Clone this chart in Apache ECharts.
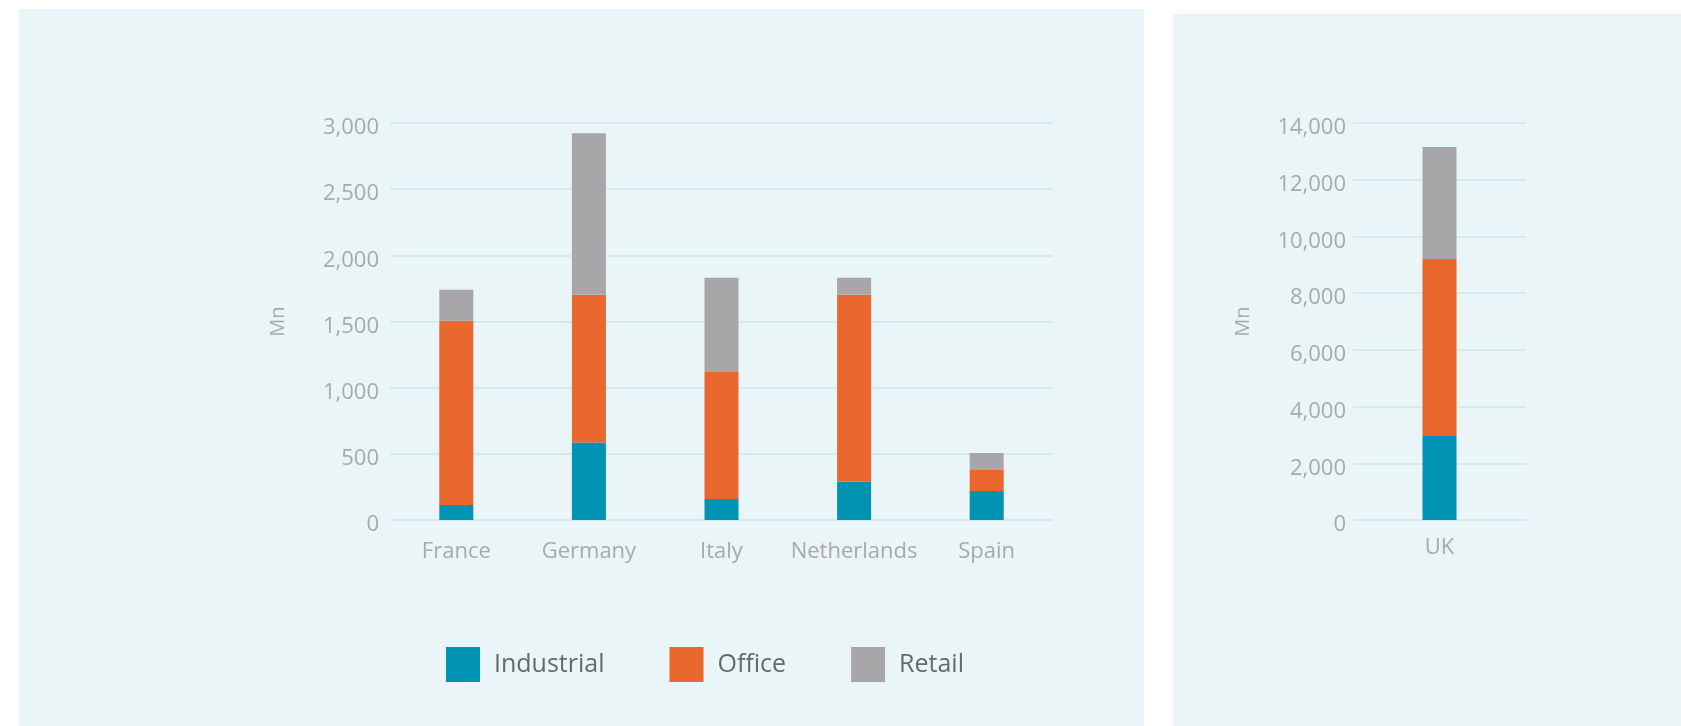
<!DOCTYPE html>
<html>
<head>
<meta charset="utf-8">
<script src="https://cdn.jsdelivr.net/npm/echarts@6/dist/echarts.min.js"></script>
<style>
  html, body { margin: 0; padding: 0; background: #ffffff; }
  #chart { width: 1681px; height: 726px; }
</style>
</head>
<body>
<div id="chart"></div>
<script>
// ---- Data ----
const seriesNames = ['Industrial', 'Office', 'Retail'];
const categories = ['France', 'Germany', 'Italy', 'Netherlands', 'Spain'];
const industrial = [113, 585, 159, 290, 219];
const office = [1392, 1117, 960, 1412, 159];
const retail = [235, 1220, 711, 128, 129];

const ukCategories = ['UK'];
const ukIndustrial = [2990];
const ukOffice = [6210];
const ukRetail = [3950];

const leftAxisMax = 3000, leftAxisInterval = 500;
const rightAxisMax = 14000, rightAxisInterval = 2000;
const axisName = 'Mn';

// ---- Styles ----
const colors = ['#0093b3', '#ea672e', '#a7a7a9'];
const panelColor = '#e9f5f7';
const gridColor = '#d5eaf0';
const labelColor = '#a9a9a9';
const font = 'Open Sans';

const chart = echarts.init(document.getElementById('chart'), null, { renderer: 'canvas' });

function fmt(v) { return Number(v).toLocaleString('en-US'); }

function yAxis(gridIndex, max, interval, labelMargin, nameGap) {
  return {
    type: 'value', gridIndex: gridIndex, min: 0, max: max, interval: interval,
    name: axisName, nameLocation: 'middle', nameGap: nameGap,
    nameTextStyle: { color: labelColor, fontSize: 20, fontFamily: font },
    axisLine: { show: false }, axisTick: { show: false },
    axisLabel: { color: labelColor, fontSize: 22, fontFamily: font, margin: labelMargin,
                 formatter: fmt, verticalAlign: 'top', lineHeight: 10 },
    splitLine: { show: true, lineStyle: { color: gridColor, width: 2 } }
  };
}
function xAxis(gridIndex, data, margin) {
  return {
    type: 'category', gridIndex: gridIndex, data: data,
    axisLine: { show: false }, axisTick: { show: false },
    axisLabel: { color: labelColor, fontSize: 22, fontFamily: font, margin: margin, interval: 0 }
  };
}
function barSeries(name, data, idx, axisIdx, width) {
  return {
    name: name, type: 'bar', stack: 'total' + axisIdx,
    xAxisIndex: axisIdx, yAxisIndex: axisIdx,
    data: data, barWidth: width,
    itemStyle: { color: colors[idx] },
    emphasis: { disabled: true }
  };
}

const option = {
  animation: false,
  backgroundColor: '#ffffff',
  graphic: [
    { type: 'rect', z: -10, shape: { x: 19, y: 9, width: 1125, height: 717 }, style: { fill: panelColor } },
    { type: 'rect', z: -10, shape: { x: 1173, y: 14, width: 508, height: 712 }, style: { fill: panelColor } }
  ],
  legend: {
    data: seriesNames,
    left: 446, top: 647, padding: 0,
    itemWidth: 34, itemHeight: 35, itemGap: 65,
    icon: 'rect',
    textStyle: { color: '#666a6c', fontSize: 25, fontFamily: font, padding: [4, 0, 0, 9] }
  },
  grid: [
    { left: 390, top: 123, width: 663, height: 397, containLabel: false },
    { left: 1353, top: 123, width: 173, height: 397, containLabel: false }
  ],
  xAxis: [ xAxis(0, categories, 21), xAxis(1, ukCategories, 17) ],
  yAxis: [
    yAxis(0, leftAxisMax, leftAxisInterval, 11, 102),
    yAxis(1, rightAxisMax, rightAxisInterval, 7, 100)
  ],
  series: [
    barSeries(seriesNames[0], industrial, 0, 0, 34),
    barSeries(seriesNames[1], office, 1, 0, 34),
    barSeries(seriesNames[2], retail, 2, 0, 34),
    barSeries(seriesNames[0], ukIndustrial, 0, 1, 34),
    barSeries(seriesNames[1], ukOffice, 1, 1, 34),
    barSeries(seriesNames[2], ukRetail, 2, 1, 34)
  ]
};
chart.setOption(option);
</script>
</body>
</html>
